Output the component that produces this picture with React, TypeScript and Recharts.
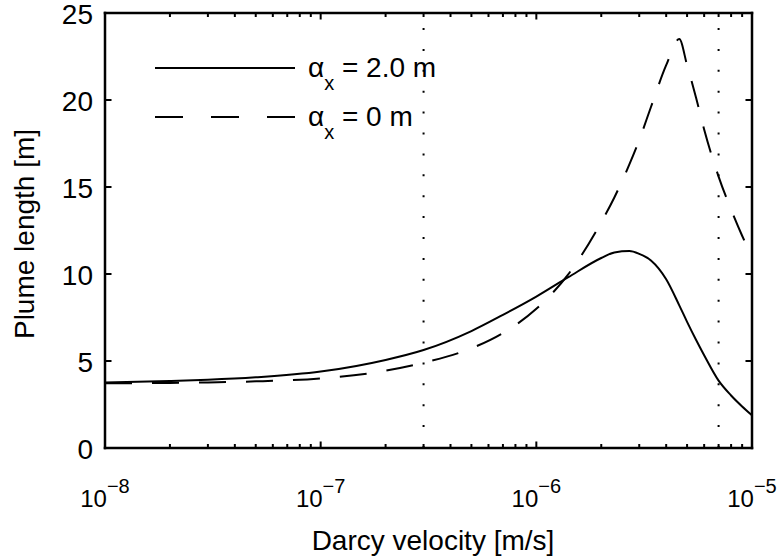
import React from 'react';
import { LineChart, Line, XAxis, YAxis, ReferenceLine, Legend } from 'recharts';

// Darcy velocity [m/s]
const velocity = [
  1e-8, 2e-8, 3e-8, 5e-8, 1e-7, 2e-7, 3e-7, 5e-7, 7e-7, 1e-6, 1.4e-6, 2e-6, 2.3e-6, 2.7e-6,
  3e-6, 3.4e-6, 4e-6, 4.6e-6, 5e-6, 5.5e-6, 6e-6, 7e-6, 8e-6, 9e-6, 1e-5,
];
// plume length [m], alpha_x = 2.0 m
const plumeAlpha2 = [
  3.77, 3.85, 3.92, 4.06, 4.39, 5.06, 5.63, 6.72, 7.65, 8.7, 9.8, 10.92, 11.24, 11.32,
  11.16, 10.78, 9.7, 8.2, 7.25, 6.22, 5.33, 3.87, 3.02, 2.39, 1.88,
];
// plume length [m], alpha_x = 0 m
const plumeAlpha0 = [
  3.72, 3.74, 3.77, 3.83, 4.0, 4.44, 4.9, 5.73, 6.61, 8.0, 9.95, 12.98, 14.4, 16.3,
  17.7, 19.6, 22.0, 23.5, 22.0, 20.15, 18.3, 15.6, 13.7, 12.2, 11.0,
];

const xTicks = [
  1e-8, 2e-8, 3e-8, 4e-8, 5e-8, 6e-8, 7e-8, 8e-8, 9e-8,
  1e-7, 2e-7, 3e-7, 4e-7, 5e-7, 6e-7, 7e-7, 8e-7, 9e-7,
  1e-6, 2e-6, 3e-6, 4e-6, 5e-6, 6e-6, 7e-6, 8e-6, 9e-6,
  1e-5,
];
const yTicks = [0, 5, 10, 15, 20, 25];
const markerLines = [3e-7, 7e-6];

const legendItems = [
  { sub: 'x', text: ' = 2.0 m', dash: undefined },
  { sub: 'x', text: ' = 0 m', dash: '28 28' },
];

const data = velocity.map((v, i) => ({ v, a2: plumeAlpha2[i], a0: plumeAlpha0[i] }));

const FONT = '"Liberation Sans", Arial, sans-serif';
const X_MIN = 1e-8;
const X_MAX = 1e-5;
const Y_MIN = 0;
const Y_MAX = 25;
// inward tick lengths in axis units (~6.5px major, ~4px minor)
const MAJOR_LEN_Y = 0.374;
const MINOR_LEN_Y = 0.23;
const LEN_X_FACTOR = 1.072;

const isMajor = (v: number) => {
  const l = Math.log10(v);
  return Math.abs(l - Math.round(l)) < 1e-6;
};

const BottomTick = (props: any) => {
  const { x, y, payload } = props;
  const v = payload.value;
  if (!isMajor(v)) return <g />;
  const e = Math.round(Math.log10(v));
  return (
    <text x={x} y={y + 58.5} textAnchor="middle" fontSize={24} fill="#000" fontFamily={FONT}>
      10<tspan dy={-14} fontSize={20}>{'\u2212' + String(-e)}</tspan>
    </text>
  );
};

const LeftTick = (props: any) => {
  const { x, y, payload } = props;
  return (
    <text x={x - 12} y={y + 11} textAnchor="end" fontSize={28} fill="#000" fontFamily={FONT}>
      {payload.value}
    </text>
  );
};

const LegendBox = () => (
  <svg width={460} height={150} style={{ display: 'block' }}>
    {legendItems.map((it, i) => {
      const cy = 68 + i * 49;
      return (
        <g key={i}>
          <line x1={155} x2={295} y1={cy} y2={cy} stroke="#000" strokeWidth={2} strokeDasharray={it.dash} />
          <text x={308} y={cy + 9} fontSize={28} fill="#000" fontFamily={FONT}>
            α<tspan dy={13} fontSize={20}>{it.sub}</tspan>
            <tspan dy={-13}>{it.text}</tspan>
          </text>
        </g>
      );
    })}
  </svg>
);

const axisLine = { stroke: '#000', strokeWidth: 2.5, strokeLinecap: 'square' as const };

export default function App() {
  return (
    <div style={{ position: 'absolute', left: 0, top: 0, background: '#fff', fontFamily: FONT }}>
      <LineChart width={778} height={558} data={data} margin={{ top: 5, right: 6, bottom: 10, left: 5 }}>
        <XAxis
          xAxisId="bottom"
          dataKey="v"
          type="number"
          scale="log"
          domain={[X_MIN, X_MAX]}
          allowDataOverflow
          ticks={xTicks}
          interval={0}
          height={100}
          tickSize={0}
          tickMargin={0}
          tickLine={false}
          axisLine={axisLine}
          tick={BottomTick}
          label={{
            content: () => (
              <text x={433} y={550} textAnchor="middle" fontSize={28} fill="#000" fontFamily={FONT}>
                Darcy velocity [m/s]
              </text>
            ),
          }}
        />
        <XAxis
          xAxisId="top"
          orientation="top"
          dataKey="v"
          type="number"
          scale="log"
          domain={[X_MIN, X_MAX]}
          allowDataOverflow
          ticks={xTicks}
          height={8}
          tick={false}
          tickLine={false}
          axisLine={axisLine}
        />
        <YAxis
          yAxisId="left"
          type="number"
          domain={[Y_MIN, Y_MAX]}
          ticks={yTicks}
          interval={0}
          width={100}
          tickSize={0}
          tickMargin={0}
          tickLine={false}
          axisLine={axisLine}
          tick={LeftTick}
          label={{
            content: () => (
              <text
                x={33.5}
                y={234}
                transform="rotate(-90, 33.5, 234)"
                textAnchor="middle"
                fontSize={28}
                fill="#000"
                fontFamily={FONT}
              >
                Plume length [m]
              </text>
            ),
          }}
        />
        <YAxis
          yAxisId="right"
          orientation="right"
          type="number"
          domain={[Y_MIN, Y_MAX]}
          ticks={yTicks}
          width={20}
          tick={false}
          tickLine={false}
          axisLine={axisLine}
        />

        {/* inward tick marks, bottom/top */}
        {xTicks.map((v) => {
          const len = isMajor(v) ? MAJOR_LEN_Y : MINOR_LEN_Y;
          return (
            <React.Fragment key={`tx-${v}`}>
              <ReferenceLine
                xAxisId="bottom"
                yAxisId="left"
                stroke="#000"
                strokeWidth={2}
                ifOverflow="visible"
                segment={[{ x: v, y: Y_MIN }, { x: v, y: Y_MIN + len }]}
              />
              <ReferenceLine
                xAxisId="bottom"
                yAxisId="left"
                stroke="#000"
                strokeWidth={2}
                ifOverflow="visible"
                segment={[{ x: v, y: Y_MAX }, { x: v, y: Y_MAX - len }]}
              />
            </React.Fragment>
          );
        })}
        {/* inward tick marks, left/right */}
        {yTicks.map((t) => (
          <React.Fragment key={`ty-${t}`}>
            <ReferenceLine
              xAxisId="bottom"
              yAxisId="left"
              stroke="#000"
              strokeWidth={2}
              ifOverflow="visible"
              segment={[{ x: X_MIN, y: t }, { x: X_MIN * LEN_X_FACTOR, y: t }]}
            />
            <ReferenceLine
              xAxisId="bottom"
              yAxisId="left"
              stroke="#000"
              strokeWidth={2}
              ifOverflow="visible"
              segment={[{ x: X_MAX / LEN_X_FACTOR, y: t }, { x: X_MAX, y: t }]}
            />
          </React.Fragment>
        ))}

        {markerLines.map((m) => (
          <ReferenceLine
            key={m}
            x={m}
            xAxisId="bottom"
            yAxisId="left"
            stroke="#000"
            strokeWidth={2}
            strokeDasharray="2 18.9"
          />
        ))}
        <Line
          xAxisId="bottom"
          yAxisId="left"
          type="monotone"
          dataKey="a2"
          name="αx = 2.0 m"
          stroke="#000"
          strokeWidth={2}
          dot={false}
          isAnimationActive={false}
        />
        <Line
          xAxisId="bottom"
          yAxisId="left"
          type="monotone"
          dataKey="a0"
          name="αx = 0 m"
          stroke="#000"
          strokeWidth={2}
          strokeDasharray="27 20"
          dot={false}
          isAnimationActive={false}
        />
        <Legend
          layout="vertical"
          align="center"
          verticalAlign="middle"
          content={<LegendBox />}
          wrapperStyle={{ left: 0, top: 0, width: 460, height: 150, pointerEvents: 'none' }}
        />
      </LineChart>
    </div>
  );
}
